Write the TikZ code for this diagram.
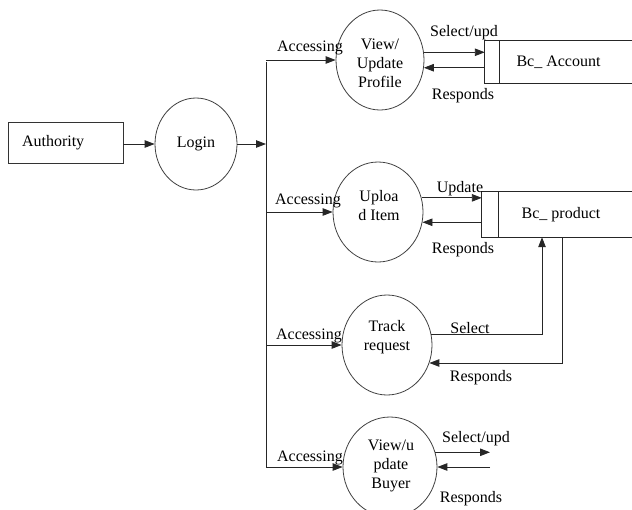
\documentclass[tikz,border=0pt]{standalone}
\usepackage{fontspec}
\setmainfont{Liberation Serif}
\usetikzlibrary{arrows.meta,calc,shapes.geometric}
\begin{document}
\begin{tikzpicture}[x=1pt,y=-1pt,
  every node/.style={font=\fontsize{16}{19}\selectfont, inner sep=0pt},
  tx/.style={yshift=-1.5pt},
  ln/.style={line width=0.9pt, draw=black!85},
  arr/.style={ln, -{Triangle[length=10pt,width=7.5pt]}},
  proc/.style={ellipse, draw=black!75, line width=0.8pt},
  lbl/.style={align=center, yshift=-1.5pt}
]
\useasboundingbox (0,0) rectangle (632,509);

% entity and login
\node[draw=black!80, line width=0.8pt, minimum width=115pt, minimum height=41pt,
      text width=87pt, inner xsep=14pt, align=left] (auth) at (65.5,142.5) {Authority};
\node[proc, minimum width=82pt, minimum height=92pt] (login) at (196,144) {Login};

% processes
\node[proc, minimum width=88pt, minimum height=100pt] (p1) at (380,60) {};
\node[proc, minimum width=90pt, minimum height=100pt] (p2) at (378,212) {};
\node[proc, minimum width=90pt, minimum height=100pt] (p3) at (387,345) {};
\node[proc, minimum width=94pt, minimum height=100pt] (p4) at (390,467) {};

\node[lbl] (t1) at (380,62) {View/\\Update\\Profile};
\node[lbl] (t2) at (379,204) {Uploa\\d Item};
\node[lbl] (t3) at (387,336) {Track\\request};
\node[lbl] (t4) at (391,464) {View/u\\pdate\\Buyer};

% data stores
\node[minimum width=147pt, minimum height=42pt] (acc) at (558.5,62) {Bc\_ Account};
\node[minimum width=150pt, minimum height=45pt] (prod) at (557,214.5) {\hspace*{8pt}Bc\_ product};
\draw[ln] (acc.north east) -- (acc.north west) -- (acc.south west) -- (acc.south east);
\draw[ln] ([xshift=15pt]acc.north west) -- ([xshift=15pt]acc.south west);
\draw[ln] (prod.north east) -- (prod.north west) -- (prod.south west) -- (prod.south east);
\draw[ln] ([xshift=17pt]prod.north west) -- ([xshift=17pt]prod.south west);

% trunk
\coordinate (tj) at (266,144);
\coordinate (ttop) at (266,60);
\draw[arr] (auth.east |- login.west) -- (login.west);
\draw[arr] (login.east) -- (tj);
\draw[ln] ([yshift=-2pt]ttop) -- (ttop |- p4.west);
\draw[arr] (ttop) -- (p1.west);
\draw[arr] (ttop |- p2.west) -- (p2.west);
\draw[arr] (ttop |- p3.west) -- (p3.west);
\draw[arr] (ttop |- p4.west) -- (p4.west);

\node[tx] (a1) at (310,46) {Accessing};
\node[tx] (a2) at (308,199) {Accessing};
\node[tx] (a3) at (309,334) {Accessing};
\node[tx] (a4) at (310,456) {Accessing};

% process 1 <-> Bc_Account
\draw[arr] (p1.10) -- (acc.west |- p1.10);
\draw[arr] (acc.west |- p1.-10) -- (p1.-10);
\node[tx] (s1) at (464,31) {Select/upd};
\node[tx] (r1) at (463,94) {Responds};

% process 2 <-> Bc_product
\draw[arr] (p2.18) -- (prod.west |- p2.18);
\draw[arr] (prod.west |- p2.-13) -- (p2.-13);
\node[tx] (u2) at (460,187) {Update};
\node[tx] (r2) at (463,248) {Responds};

% process 3 <-> Bc_product
\draw[arr] (p3.13) -| ([xshift=-15pt]prod.south);
\draw[arr] ([xshift=5pt]prod.south) |- (p3.-23);
\node[tx] (s3) at (470,327) {Select};
\node[tx] (r3) at (481,376) {Responds};

% process 4 free flows
\coordinate (b1) at (490,452);
\coordinate (b2) at (490,467);
\draw[arr] (p4.18) -- (b1 |- p4.18);
\draw[arr] (b2) -- (p4.east);
\node[tx] (s4) at (476,437) {Select/upd};
\node[tx] (r4) at (471,497) {Responds};
\end{tikzpicture}
\end{document}
